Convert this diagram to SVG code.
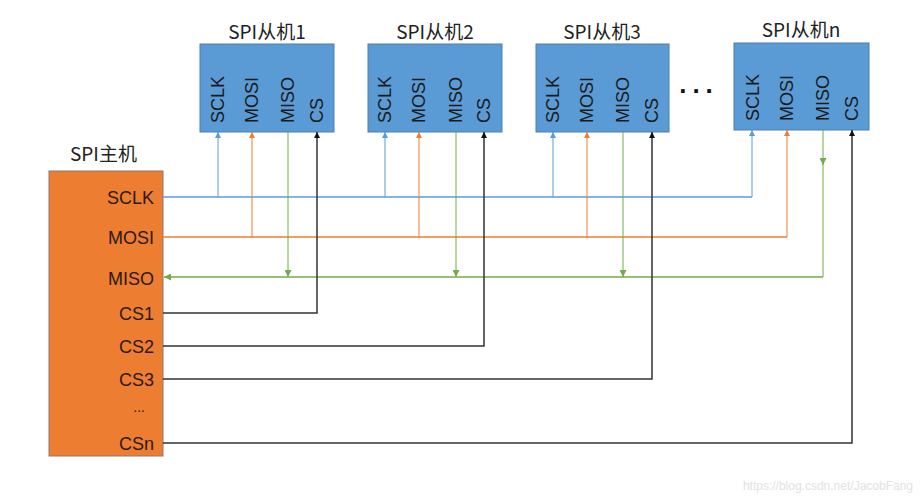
<svg xmlns="http://www.w3.org/2000/svg" width="920" height="500" viewBox="0 0 920 500">
<defs>
<style>
.t{font-family:"Noto Sans CJK SC","Liberation Sans",sans-serif;font-size:19px;fill:#222}
.pin{font-family:"Liberation Sans","Noto Sans",sans-serif;font-size:18px;fill:#1a1a1a}
.mp{font-family:"Liberation Sans","Noto Sans",sans-serif;font-size:18px;fill:#2a1a10;text-anchor:end}
.slave{fill:#5B9BD5;stroke:#4a7fb0;stroke-width:1}
.master{fill:#ED7D31;stroke:#8a7a70;stroke-width:1}
.sclk{stroke:#5B9BD5;fill:none}
.mosi{stroke:#ED7D31;fill:none}
.miso{stroke:#70AD47;fill:none}
.cs{stroke:#333;fill:none}
.h{stroke-width:1.5}
.v{stroke-width:1}
</style>
<marker id="aB" viewBox="0 0 10 10" refX="10" refY="5" markerWidth="6" markerHeight="6" orient="auto" markerUnits="userSpaceOnUse"><path d="M0,0L10,5L0,10z" fill="#5B9BD5"/></marker>
<marker id="aO" viewBox="0 0 10 10" refX="10" refY="5" markerWidth="6" markerHeight="6" orient="auto" markerUnits="userSpaceOnUse"><path d="M0,0L10,5L0,10z" fill="#ED7D31"/></marker>
<marker id="aG" viewBox="0 0 10 10" refX="10" refY="5" markerWidth="7" markerHeight="7" orient="auto" markerUnits="userSpaceOnUse"><path d="M0,0L10,5L0,10z" fill="#70AD47"/></marker>
<marker id="aK" viewBox="0 0 10 10" refX="10" refY="5" markerWidth="6" markerHeight="6" orient="auto" markerUnits="userSpaceOnUse"><path d="M0,0L10,5L0,10z" fill="#111"/></marker>
</defs>
<rect width="920" height="500" fill="#fff"/>

<g id="slave1">
<text class="t" x="267" y="39" text-anchor="middle">SPI从机1</text>
<rect class="slave" x="200" y="44" width="134" height="88"/>
<text class="pin" transform="translate(224,123) rotate(-90)">SCLK</text>
<text class="pin" transform="translate(258,123) rotate(-90)">MOSI</text>
<text class="pin" transform="translate(294,123) rotate(-90)">MISO</text>
<text class="pin" transform="translate(323,123) rotate(-90)">CS</text>
</g>
<g id="slave2">
<text class="t" x="435" y="39" text-anchor="middle">SPI从机2</text>
<rect class="slave" x="368" y="44" width="134" height="88"/>
<text class="pin" transform="translate(391,123) rotate(-90)">SCLK</text>
<text class="pin" transform="translate(425,123) rotate(-90)">MOSI</text>
<text class="pin" transform="translate(462,123) rotate(-90)">MISO</text>
<text class="pin" transform="translate(490,123) rotate(-90)">CS</text>
</g>
<g id="slave3">
<text class="t" x="602" y="39" text-anchor="middle">SPI从机3</text>
<rect class="slave" x="536" y="44" width="133" height="88"/>
<text class="pin" transform="translate(559,123) rotate(-90)">SCLK</text>
<text class="pin" transform="translate(593,123) rotate(-90)">MOSI</text>
<text class="pin" transform="translate(629,123) rotate(-90)">MISO</text>
<text class="pin" transform="translate(658,123) rotate(-90)">CS</text>
</g>
<g id="dots">
<text x="699" y="93" text-anchor="middle" style="font-family:'Liberation Sans',sans-serif;font-size:26px;font-weight:bold;letter-spacing:6px;fill:#111">...</text>
</g>
<g id="slaven">
<text class="t" x="801" y="37" text-anchor="middle">SPI从机n</text>
<rect class="slave" x="734" y="43" width="135" height="87"/>
<text class="pin" transform="translate(759,121) rotate(-90)">SCLK</text>
<text class="pin" transform="translate(793,121) rotate(-90)">MOSI</text>
<text class="pin" transform="translate(829,121) rotate(-90)">MISO</text>
<text class="pin" transform="translate(858,121) rotate(-90)">CS</text>
</g>

<g id="master">
<text class="t" x="70" y="161">SPI主机</text>
<rect class="master" x="49" y="171" width="114" height="285"/>
<text class="mp" x="154" y="204">SCLK</text>
<text class="mp" x="154" y="244">MOSI</text>
<text class="mp" x="154" y="285">MISO</text>
<text class="mp" x="154" y="320">CS1</text>
<text class="mp" x="154" y="353">CS2</text>
<text class="mp" x="154" y="386">CS3</text>
<text class="mp" x="145" y="412" style="font-size:14px">...</text>
<text class="mp" x="154" y="450">CSn</text>
</g>

<g id="connectors">
<path class="sclk h" d="M163,197H752"/>
<path class="sclk v" d="M218,197V132" marker-end="url(#aB)"/>
<path class="sclk v" d="M385,197V132" marker-end="url(#aB)"/>
<path class="sclk v" d="M553,197V132" marker-end="url(#aB)"/>
<path class="sclk v" d="M752,197V130" marker-end="url(#aB)"/>

<path class="mosi h" d="M163,237H787"/>
<path class="mosi v" d="M252,237V132" marker-end="url(#aO)"/>
<path class="mosi v" d="M419,237V132" marker-end="url(#aO)"/>
<path class="mosi v" d="M587,237V132" marker-end="url(#aO)"/>
<path class="mosi v" d="M787,237V130" marker-end="url(#aO)"/>

<path class="miso h" d="M823,277H164" marker-end="url(#aG)"/>
<path class="miso v" d="M288,132V277" marker-end="url(#aG)"/>
<path class="miso v" d="M456,132V277" marker-end="url(#aG)"/>
<path class="miso v" d="M623,132V277" marker-end="url(#aG)"/>
<path class="miso v" d="M823,130V165" marker-end="url(#aG)"/>
<path class="miso v" d="M823,160V277"/>

<path class="cs h" d="M163,313H317V132" marker-end="url(#aK)"/>
<path class="cs h" d="M163,346H484V132" marker-end="url(#aK)"/>
<path class="cs h" d="M163,379H652V132" marker-end="url(#aK)"/>
<path class="cs h" d="M163,443H852V130" marker-end="url(#aK)"/>
</g>

<text x="913" y="490" text-anchor="end" style="font-family:'Liberation Sans',sans-serif;font-size:12px;fill:#e2e2e2">https://blog.csdn.net/JacobFang</text>
</svg>
